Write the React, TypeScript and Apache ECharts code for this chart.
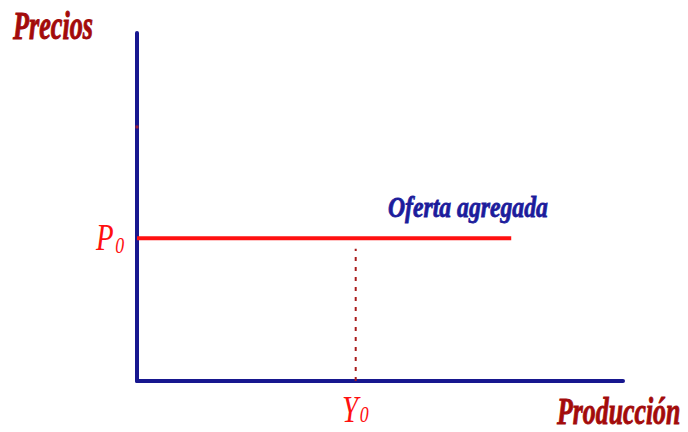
import React, { useEffect, useRef } from "react";
import * as echarts from "echarts";

// Price level P0 and output Y0 on an arbitrary 0–10 scale
const xRange = [0, 10];
const yRange = [0, 10];
const priceLevel = 4.1;
const supplyEndX = 7.7;
const outputY0 = 4.5;
const dropTopY = 3.8;
const axisMarkY = 7.3;

const supplyLine = [
  [0, priceLevel],
  [supplyEndX, priceLevel],
];
const dropLine = [
  [outputY0, 0],
  [outputY0, dropTopY],
];

const AXIS_BLUE = "#17178f";
const DARK_RED = "#a30b0b";
const RED = "#ff1010";
const SERIF = "'Liberation Serif', 'DejaVu Serif', serif";

export default function App() {
  const ref = useRef<HTMLDivElement>(null);

  useEffect(() => {
    if (!ref.current) return;
    const chart = echarts.init(ref.current, null, { renderer: "svg" });

    const label = (
      x: number,
      y: number,
      text: string,
      color: string,
      size: number,
      sx: number,
      sy: number
    ) => ({
      type: "text",
      x,
      y,
      scaleX: sx,
      scaleY: sy,
      style: {
        text,
        fill: color,
        stroke: color,
        lineWidth: 0.8,
        font: `italic bold ${size}px ${SERIF}`,
        textAlign: "left",
        textVerticalAlign: "middle",
      },
    });

    const subLabel = (
      x: number,
      y: number,
      main: string,
      sub: string,
      subDrop: number
    ) => ({
      type: "text",
      x,
      y,
      scaleX: 0.85,
      scaleY: 1.1,
      style: {
        text: `{m|${main}}{s|${sub}}`,
        textAlign: "left",
        textVerticalAlign: "middle",
        rich: {
          m: {
            fill: RED,
            font: `italic 34px ${SERIF}`,
            lineHeight: 30,
          },
          s: {
            fill: RED,
            font: `italic 21px ${SERIF}`,
            lineHeight: 18,
            padding: [subDrop, 0, 0, 2],
          },
        },
      },
    });

    chart.setOption({
      animation: false,
      grid: { left: 137, right: 65, top: 33, bottom: 51 },
      xAxis: {
        type: "value",
        min: xRange[0],
        max: xRange[1],
        axisLine: { show: true, lineStyle: { color: AXIS_BLUE, width: 4 } },
        axisTick: { show: false },
        axisLabel: { show: false },
        splitLine: { show: false },
      },
      yAxis: {
        type: "value",
        min: yRange[0],
        max: yRange[1],
        axisLine: { show: true, lineStyle: { color: AXIS_BLUE, width: 4 } },
        axisTick: { show: false },
        axisLabel: { show: false },
        splitLine: { show: false },
      },
      series: [
        {
          type: "line",
          data: dropLine,
          symbol: "none",
          lineStyle: { color: "#a81c1c", width: 2, type: [4, 6] },
          z: 1,
        },
        {
          type: "line",
          data: supplyLine,
          symbol: "none",
          lineStyle: { color: RED, width: 4 },
          z: 3,
        },
        {
          type: "scatter",
          data: [[0, axisMarkY]],
          symbol: "rect",
          symbolSize: [3, 3],
          itemStyle: { color: "#c02020" },
          z: 4,
        },
      ],
      graphic: [
        label(13, 25, "Precios", DARK_RED, 34, 0.77, 1.15),
        label(388, 207, "Oferta agregada", "#1c1c9c", 30, 0.79, 1.0),
        label(557, 411, "Producción", DARK_RED, 34, 0.76, 1.1),
        subLabel(96, 237, "P", "0", 15),
        subLabel(342, 409, "Y", "0", 10),
      ],
    });

    return () => chart.dispose();
  }, []);

  return (
    <div
      ref={ref}
      style={{
        position: "fixed",
        left: 0,
        top: 0,
        width: 688,
        height: 432,
        background: "#ffffff",
      }}
    />
  );
}
